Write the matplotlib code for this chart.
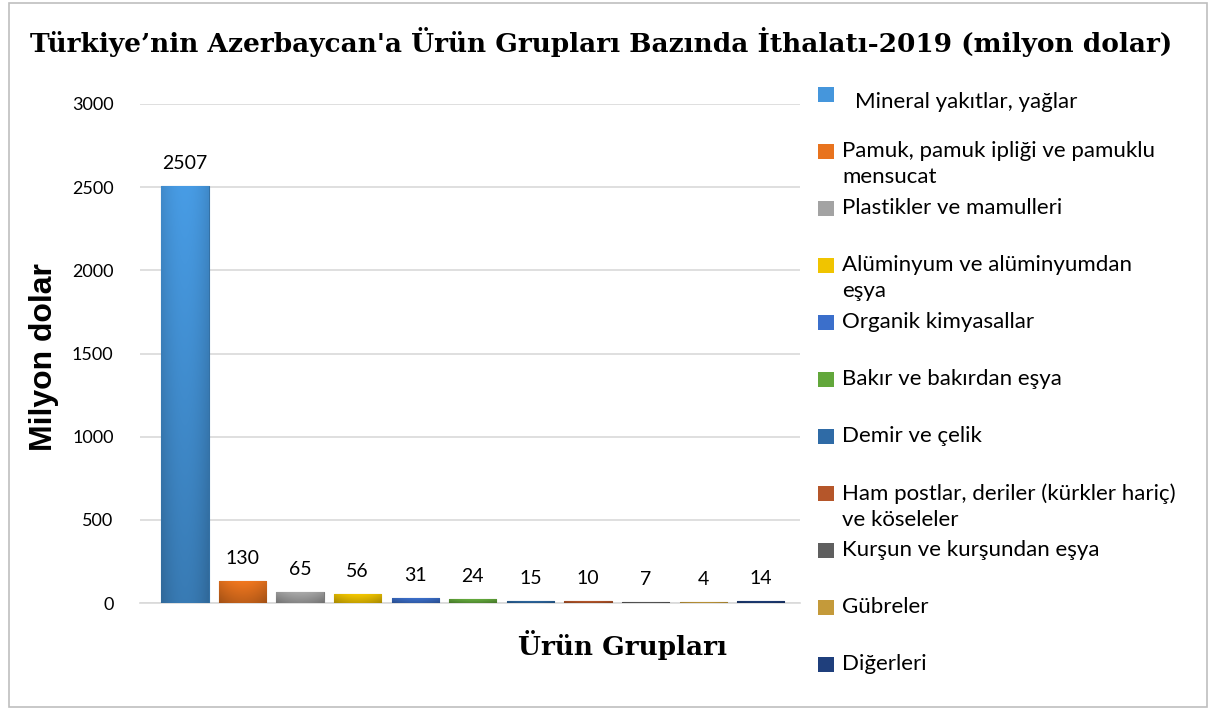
import matplotlib.pyplot as plt
from matplotlib.patches import Rectangle
from matplotlib.colors import to_rgb
import numpy as np

# data
kategoriler = ["Mineral yakıtlar, yağlar",
               "Pamuk, pamuk ipliği ve pamuklu\nmensucat",
               "Plastikler ve mamulleri",
               "Alüminyum ve alüminyumdan\neşya",
               "Organik kimyasallar",
               "Bakır ve bakırdan eşya",
               "Demir ve çelik",
               "Ham postlar, deriler (kürkler hariç)\nve köseleler",
               "Kurşun ve kurşundan eşya",
               "Gübreler",
               "Diğerleri"]
degerler = [2507, 130, 65, 56, 31, 24, 15, 10, 7, 4, 14]
renkler = ["#4596dc", "#e8731e", "#a3a3a3", "#f0c400", "#3b6fcb", "#62a73b",
           "#2f6ba6", "#b5562a", "#5f5f5f", "#c49a3a", "#1f3f7c"]
y_ticks = [0, 500, 1000, 1500, 2000, 2500, 3000]

W, H = 1216, 709
fig = plt.figure(figsize=(W/100, H/100), dpi=100)
ax = fig.add_axes([140/W, 1-603/H, 660/W, 499/H])

x = np.arange(len(degerler))
bars = ax.bar(x, degerler, width=0.82, color=renkler, zorder=3)

# light gradient on each bar (lighter at top, darker edges)
gy = np.linspace(1, 0, 64)[:, None]
gx = np.linspace(-1, 1, 32)[None, :]
shade = 0.82 + 0.22 * gy - 0.12 * gx**2
for b, c in zip(bars, renkler):
    rgb = np.array(to_rgb(c))
    img = np.clip(shade[..., None] * rgb[None, None, :], 0, 1)
    im = ax.imshow(img, extent=[b.get_x(), b.get_x() + b.get_width(), 0, b.get_height()],
                   aspect='auto', zorder=4, interpolation='bilinear')
    im.set_clip_path(b)
    b.set_edgecolor(tuple(rgb * 0.75))
    b.set_linewidth(0.8)

for xi, v in zip(x, degerler):
    ax.annotate(str(v), (xi, v), xytext=(0, 10), textcoords='offset points',
                ha='center', va='bottom', fontsize=14, family='Lato')

ax.set_xlim(-0.78, 10.68)
ax.set_ylim(0, 3000)
ax.set_yticks(y_ticks)
ax.set_xticks([])
ax.tick_params(axis='y', length=0, pad=19, labelsize=13)
for lbl in ax.get_yticklabels():
    lbl.set_family('Lato')
ax.grid(axis='y', color='#d9d9d9', linewidth=1.2, zorder=0)
for s in ['top', 'right', 'left']:
    ax.spines[s].set_visible(False)
ax.spines['bottom'].set_color('#d9d9d9')
ax.spines['bottom'].set_linewidth(1.2)

fig.text(44/W, 1-357/H, 'Milyon dolar', rotation=90, ha='center', va='center',
         fontsize=23, fontweight='bold', family='Liberation Sans')

fig.text(622/W, 1-645/H, 'Ürün Grupları', ha='center', va='center',
         fontsize=19, fontweight='bold', family='DejaVu Serif')
fig.text(601/W, 1-42/H,
         "Türkiye’nin Azerbaycan'a Ürün Grupları Bazında İthalatı-2019 (milyon dolar)",
         ha='center', va='center', fontsize=19, fontweight='bold', family='DejaVu Serif')

# legend drawn by hand
step = 57
for i, (k, c) in enumerate(zip(kategoriler, renkler)):
    my = 94 if i == 0 else 151 + (i - 1) * step
    fig.patches.append(Rectangle((818/W, 1-(my+8)/H), 16/W, 15/H,
                                 transform=fig.transFigure, facecolor=c,
                                 edgecolor='none'))
    if i == 0:
        fig.text(855/W, 1-102/H, k, ha='left', va='center', fontsize=16, family='Lato')
    else:
        fig.text(842/W, 1-(my-10)/H, k, ha='left', va='top', fontsize=16,
                 family='Lato', linespacing=1.4)

fig.patches.append(Rectangle((9/W, 2/H), 1198/W, 704/H,
                             transform=fig.transFigure, fill=False,
                             edgecolor='#bfbfbf', linewidth=1.2))

fig.savefig('out.png', dpi=100)
